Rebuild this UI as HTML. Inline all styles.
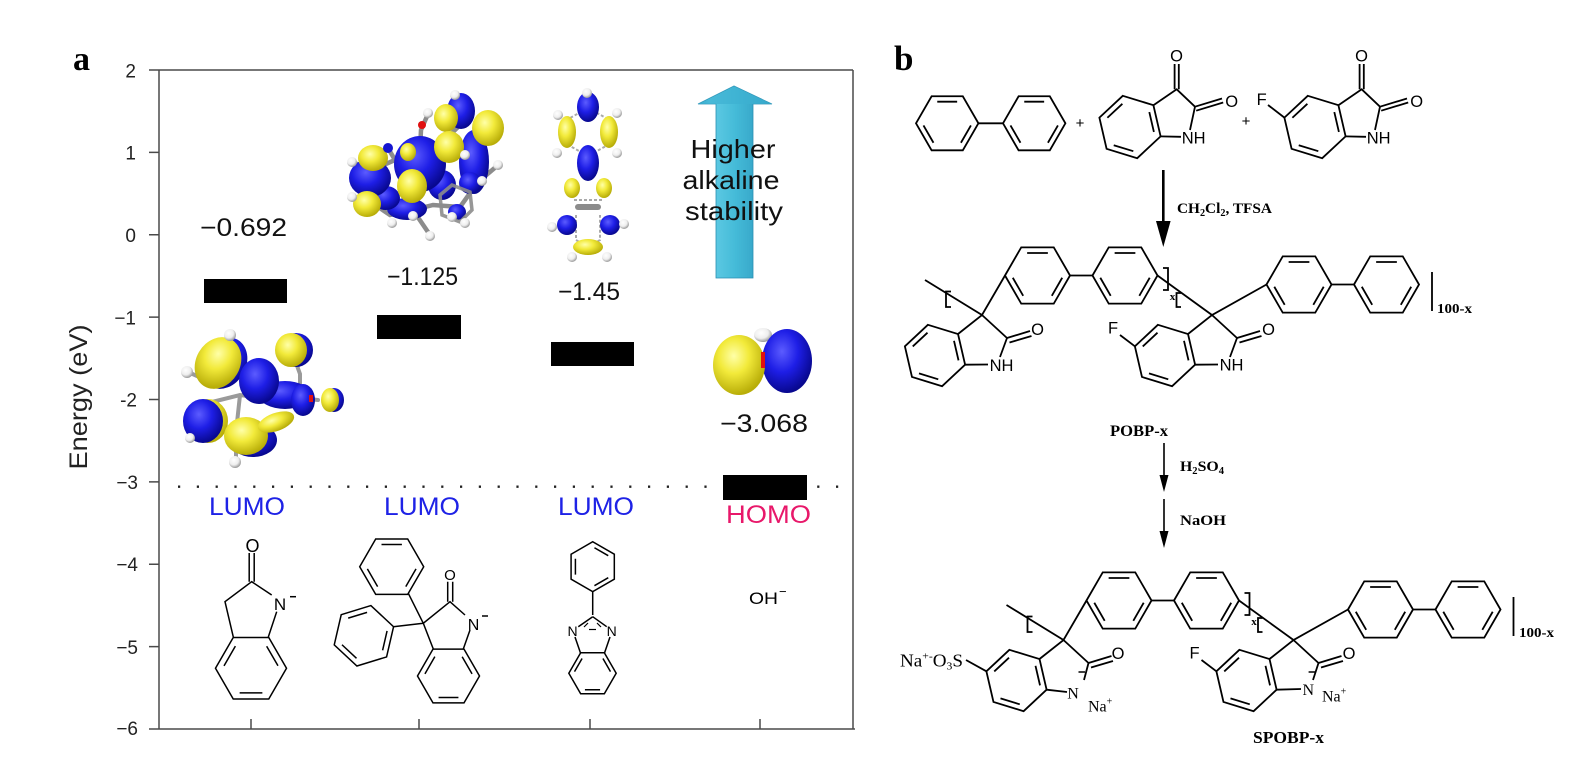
<!DOCTYPE html>
<html><head><meta charset="utf-8">
<style>
html,body{margin:0;padding:0;background:#fff;}
svg{display:block;}
</style></head><body>
<svg width="1576" height="774" viewBox="0 0 1576 774" xmlns="http://www.w3.org/2000/svg" xmlns:xlink="http://www.w3.org/1999/xlink">
<defs>
<radialGradient id="gy" cx="40%" cy="35%" r="65%"><stop offset="0" stop-color="#ffffa8"/><stop offset="0.45" stop-color="#f2ea3a"/><stop offset="1" stop-color="#b8ad08"/></radialGradient>
<radialGradient id="gb" cx="40%" cy="35%" r="65%"><stop offset="0" stop-color="#5c5cff"/><stop offset="0.5" stop-color="#1e1ee6"/><stop offset="1" stop-color="#08088f"/></radialGradient>
<radialGradient id="gw" cx="40%" cy="35%" r="65%"><stop offset="0" stop-color="#ffffff"/><stop offset="0.6" stop-color="#eeeeee"/><stop offset="1" stop-color="#9a9a9a"/></radialGradient>
<linearGradient id="cy" x1="0" y1="0" x2="1" y2="0"><stop offset="0" stop-color="#2a9ec2"/><stop offset="0.15" stop-color="#63cde6"/><stop offset="0.5" stop-color="#45bbd8"/><stop offset="0.88" stop-color="#319fc3"/><stop offset="1" stop-color="#1d7fa0"/></linearGradient>
<g id="hx"><path fill="none" vector-effect="non-scaling-stroke" d="M-32,0 L-16,-27.71 L16,-27.71 L32,0 L16,27.71 L-16,27.71 Z M-10.2,-22.17 L10.2,-22.17 M-24.32,2.21 L-14.08,19.95 M24.32,2.21 L14.08,19.95"/></g>

<g id="pobp" fill="none" stroke="#000" stroke-width="1.8">
  <path d="M925,280 L982,315 L1005,275.5 M1070.5,275.5 L1092.5,275.5 M1157.5,275.5 L1212,315 L1266.5,284.5 M1332,284.5 L1354,284.5"/>
  <use href="#hx" transform="translate(1037.5,275.5) scale(1.016)"/>
  <use href="#hx" transform="translate(1125,275.5) scale(1.016)"/>
  <use href="#hx" transform="translate(1299,284.5) scale(1.016)"/>
  <use href="#hx" transform="translate(1386.5,284.5) scale(1.016)"/>
  <use href="#hx" transform="translate(935,355.5) rotate(77) scale(0.984)"/>
  <path d="M958,334 L982,315 L1007,338 M1007,338 L1030,331 M1009.5,342.5 L1031.5,336"/>
  <use href="#hx" transform="translate(1165,355.5) rotate(77) scale(0.984)"/>
  <path d="M1188,334 L1212,315 L1237,338 M1237,338 L1260,331 M1239.5,342.5 L1261.5,336 M1134.9,346.3 L1120,335"/>
  <path d="M951,291.5 L946,291.5 L946,307 L951,307 M1163,268 L1168,268 L1168,290 L1163,290 M1181,293 L1176.5,293 L1176.5,307 L1181,307 M1432,272 L1432,311"/>
</g>
</defs>

<rect width="1576" height="774" fill="#fff"/>

<!-- ================= PANEL A ================= -->
<text x="73" y="70" font-family="Liberation Serif, serif" font-weight="bold" font-size="34" fill="#000">a</text>

<g stroke="#4a4a4a" stroke-width="1.5" fill="none">
  <path d="M149,70 L853,70 M159,70 L159,729 M149,729 L855,729 M853,70 L853,729"/>
  <path d="M149,152.4 L159,152.4 M149,234.75 L159,234.75 M149,317.1 L159,317.1 M149,399.5 L159,399.5 M149,481.9 L159,481.9 M149,564.25 L159,564.25 M149,646.6 L159,646.6"/>
  <path d="M251,719 L251,729 M419,719 L419,729 M590,719 L590,729 M760,719 L760,729"/>
</g>
<g font-family="Liberation Sans, sans-serif" font-size="19" fill="#222" text-anchor="end">
  <text x="136" y="77.7">2</text>
  <text x="136" y="159.5">1</text>
  <text x="136" y="242">0</text>
  <text x="136" y="324.5">−1</text>
  <text x="137" y="406.5">-2</text>
  <text x="138" y="489">−3</text>
  <text x="138" y="571">−4</text>
  <text x="138" y="654">−5</text>
  <text x="138" y="735">−6</text>
</g>
<text transform="translate(87,397) rotate(-90)" text-anchor="middle" font-family="Liberation Sans, sans-serif" font-size="25" fill="#222" textLength="145" lengthAdjust="spacingAndGlyphs">Energy (eV)</text>

<line x1="178" y1="486.7" x2="848" y2="486.7" stroke="#222" stroke-width="2.4" stroke-dasharray="2.2 16.6"/>

<rect x="204" y="279" width="83" height="24" fill="#000"/>
<rect x="377" y="315" width="84" height="24" fill="#000"/>
<rect x="551" y="342" width="83" height="24" fill="#000"/>
<rect x="723" y="475" width="84" height="25" fill="#000"/>

<g font-family="Liberation Sans, sans-serif" font-size="25" fill="#111">
  <text x="200" y="236" textLength="87" lengthAdjust="spacingAndGlyphs">−0.692</text>
  <text x="387" y="285" textLength="71" lengthAdjust="spacingAndGlyphs">−1.125</text>
  <text x="558" y="300" textLength="62" lengthAdjust="spacingAndGlyphs">−1.45</text>
  <text x="720" y="432" textLength="88" lengthAdjust="spacingAndGlyphs">−3.068</text>
</g>

<g font-family="Liberation Sans, sans-serif" font-size="25">
  <text x="209" y="515" fill="#1e22e6" textLength="76" lengthAdjust="spacingAndGlyphs">LUMO</text>
  <text x="384" y="515" fill="#1e22e6" textLength="76" lengthAdjust="spacingAndGlyphs">LUMO</text>
  <text x="558" y="515" fill="#1e22e6" textLength="76" lengthAdjust="spacingAndGlyphs">LUMO</text>
  <text x="726" y="523" fill="#e8186a" textLength="85" lengthAdjust="spacingAndGlyphs">HOMO</text>
</g>

<polygon points="716,278 753,278 753,104 772,104 734,86 698,104 716,104" fill="url(#cy)" stroke="#2a8fb2" stroke-width="0.8"/>
<polygon points="698,104 734,86 772,104" fill="#3db0d2" opacity="0.7"/>
<g font-family="Liberation Sans, sans-serif" font-size="26" fill="#111" text-anchor="middle">
  <text x="733" y="158" textLength="85" lengthAdjust="spacingAndGlyphs">Higher</text>
  <text x="731" y="189" textLength="97" lengthAdjust="spacingAndGlyphs">alkaline</text>
  <text x="734" y="220" textLength="98" lengthAdjust="spacingAndGlyphs">stability</text>
</g>

<!-- orbital 1 -->
<g>
  <g stroke="#9a9a9a" stroke-width="4" stroke-linecap="round" fill="none">
    <path d="M230,336 L222,352 M188,372 L206,380 M212,402 L240,395 L262,398 L300,398 L318,400 M240,395 L236,432 M236,440 L236,460 M292,352 L300,374 L300,398"/>
  </g>
  <ellipse cx="224" cy="363" rx="22" ry="27" transform="rotate(30 224 363)" fill="url(#gb)"/>
  <ellipse cx="218" cy="363" rx="22" ry="27" transform="rotate(30 218 363)" fill="url(#gy)"/>
  <ellipse cx="208" cy="421" rx="20" ry="22" fill="url(#gy)"/>
  <ellipse cx="203" cy="421" rx="20" ry="22" fill="url(#gb)"/>
  <ellipse cx="296" cy="350" rx="17" ry="17" fill="url(#gb)"/>
  <ellipse cx="291" cy="350" rx="16" ry="17" fill="url(#gy)"/>
  <ellipse cx="285" cy="395" rx="26" ry="14" fill="url(#gb)"/>
  <ellipse cx="303" cy="400" rx="12" ry="16" fill="url(#gb)"/>
  <ellipse cx="259" cy="381" rx="20" ry="23" fill="url(#gb)"/>
  <ellipse cx="253" cy="440" rx="24" ry="17" fill="url(#gb)"/>
  <ellipse cx="246" cy="436" rx="22" ry="19" fill="url(#gy)"/>
  <ellipse cx="276" cy="422" rx="19" ry="9" transform="rotate(-20 276 422)" fill="url(#gy)"/>
  <ellipse cx="334" cy="400" rx="10" ry="12" fill="url(#gb)"/>
  <ellipse cx="330" cy="400" rx="9" ry="12" fill="url(#gy)"/>
  <rect x="309" y="395" width="4" height="7" fill="#e01010"/>
  <circle cx="230" cy="335" r="6" fill="url(#gw)"/>
  <circle cx="187" cy="372" r="6" fill="url(#gw)"/>
  <circle cx="190" cy="438" r="5" fill="url(#gw)"/>
  <circle cx="235" cy="462" r="6" fill="url(#gw)"/>
</g>

<!-- orbital 2 -->
<g>
  <g stroke="#8c8c8c" stroke-width="4.5" stroke-linecap="round" fill="none">
    <path d="M352,162 L372,170 L395,160 L420,150 L445,140 L460,125 M372,170 L368,200 L390,215 L413,210 L433,205 L460,207 L478,182 L470,160 L445,150 M420,150 L421,130 L428,114 M395,160 L388,148 M413,210 L430,235 M460,207 L465,223 M478,182 L497,166 M445,140 L455,96"/>
  </g>
  <ellipse cx="474" cy="162" rx="15" ry="32" fill="url(#gb)"/>
  <ellipse cx="488" cy="128" rx="16" ry="18" fill="url(#gy)"/>
  <ellipse cx="461" cy="111" rx="14" ry="18" fill="url(#gb)"/>
  <ellipse cx="446" cy="118" rx="12" ry="14" fill="url(#gy)"/>
  <ellipse cx="442" cy="185" rx="14" ry="15" fill="url(#gb)"/>
  <ellipse cx="470" cy="183" rx="11" ry="11" fill="url(#gb)"/>
  <ellipse cx="407" cy="209" rx="20" ry="11" fill="url(#gb)"/>
  <ellipse cx="386" cy="198" rx="14" ry="12" fill="url(#gb)"/>
  <ellipse cx="420" cy="164" rx="26" ry="28" fill="url(#gb)"/>
  <ellipse cx="412" cy="186" rx="15" ry="17" fill="url(#gy)"/>
  <ellipse cx="449" cy="147" rx="15" ry="16" fill="url(#gy)"/>
  <ellipse cx="408" cy="152" rx="8" ry="9" fill="url(#gy)"/>
  <ellipse cx="370" cy="178" rx="21" ry="19" fill="url(#gb)"/>
  <ellipse cx="373" cy="158" rx="15" ry="13" fill="url(#gy)"/>
  <ellipse cx="367" cy="204" rx="14" ry="13" fill="url(#gy)"/>
  <ellipse cx="457" cy="212" rx="9" ry="8" fill="url(#gb)"/>
  <g stroke="#8c8c8c" stroke-width="3.5" fill="none" opacity="0.9">
    <path d="M440,195 L452,185 L470,192 L472,210 L460,222 L442,215 Z"/>
  </g>
  <circle cx="422" cy="125" r="4" fill="#e01010"/>
  <circle cx="388" cy="148" r="5" fill="#1515d0"/>
  <g fill="url(#gw)">
    <circle cx="455" cy="95" r="5"/><circle cx="428" cy="113" r="5"/><circle cx="352" cy="162" r="5"/>
    <circle cx="352" cy="197" r="5"/><circle cx="392" cy="223" r="5"/><circle cx="413" cy="216" r="5"/>
    <circle cx="430" cy="236" r="5"/><circle cx="465" cy="223" r="5"/><circle cx="482" cy="181" r="5"/>
    <circle cx="498" cy="165" r="5"/><circle cx="465" cy="155" r="5"/><circle cx="452" cy="217" r="5"/>
  </g>
</g>

<!-- orbital 3 -->
<g>
  <g stroke="#aaaaaa" stroke-width="2" fill="none" stroke-dasharray="3 2">
    <path d="M570,118 L570,146 L588,156 L606,146 L606,118 L588,108 Z M574,200 L602,200 M576,215 L576,240 L588,247 L600,240 L600,215"/>
  </g>
  <rect x="575" y="204" width="26" height="6" rx="3" fill="#8c8c8c"/>
  <ellipse cx="588" cy="107" rx="11" ry="15" fill="url(#gb)"/>
  <ellipse cx="567" cy="132" rx="9" ry="16" fill="url(#gy)"/>
  <ellipse cx="609" cy="132" rx="9" ry="16" fill="url(#gy)"/>
  <ellipse cx="588" cy="163" rx="11" ry="18" fill="url(#gb)"/>
  <ellipse cx="572" cy="188" rx="8" ry="10" fill="url(#gy)"/>
  <ellipse cx="604" cy="188" rx="8" ry="10" fill="url(#gy)"/>
  <ellipse cx="567" cy="225" rx="10" ry="10" fill="url(#gb)"/>
  <ellipse cx="610" cy="225" rx="10" ry="10" fill="url(#gb)"/>
  <ellipse cx="588" cy="247" rx="15" ry="8" fill="url(#gy)"/>
  <g fill="url(#gw)">
    <circle cx="587" cy="93" r="5"/><circle cx="558" cy="115" r="5"/><circle cx="617" cy="113" r="5"/>
    <circle cx="557" cy="153" r="5"/><circle cx="617" cy="153" r="5"/><circle cx="552" cy="227" r="5"/>
    <circle cx="624" cy="224" r="5"/><circle cx="572" cy="257" r="5"/><circle cx="607" cy="257" r="5"/>
  </g>
</g>

<!-- orbital 4 -->
<g>
  <ellipse cx="763" cy="335" rx="9" ry="7" fill="url(#gw)"/>
  <ellipse cx="787" cy="361" rx="25" ry="32" fill="url(#gb)"/>
  <ellipse cx="739" cy="365" rx="26" ry="30" fill="url(#gy)"/>
  <rect x="761" y="352" width="4" height="16" fill="#e01010"/>
</g>

<!-- structures panel a -->
<g fill="none" stroke="#000" stroke-width="1.5">
  <use href="#hx" transform="translate(251,668.3) rotate(60) scale(1.11)"/>
  <path d="M233.3,637 L225,601.7 L251.7,581.7 L271.7,595 M276.7,611.7 L268.3,637 M249.2,581.7 L249.2,553 M254.2,581.7 L254.2,553"/>
  <path d="M290,596.7 L296,596.7"/>
  <use href="#hx" transform="translate(448.5,676) rotate(60) scale(0.969)"/>
  <path d="M433.3,649 L423.3,623.3 L450,601.7 L465,615 M470,630 L463.3,649 M447.7,601.7 L447.7,581.7 M452.7,601.7 L452.7,581.7 M423.3,623.3 L408.3,593.3 M423.3,623.3 L393.3,626.7"/>
  <use href="#hx" transform="translate(391.7,566.7) scale(1)"/>
  <use href="#hx" transform="translate(363.9,635.8) rotate(-17) scale(0.969)"/>
  <path d="M482,616 L488,616"/>
  <use href="#hx" transform="translate(592.7,566.7) rotate(30) scale(0.78)"/>
  <use href="#hx" transform="translate(592.5,673.3) rotate(60) scale(0.74)"/>
  <path d="M592.7,591.7 L592.7,615 M592.7,616.7 L578.3,626.7 M592.7,616.7 L606.7,626.7 M575,637 L580.5,653 M610,637 L604.5,653"/>
  <path d="M589,629.5 L596,629.5" stroke-width="1.2"/>
  <path d="M588,623 L584,627 M597,623 L601,627" stroke-width="1.2"/>
</g>
<g font-family="Liberation Sans, sans-serif" fill="#000">
  <text x="252.5" y="552" font-size="18" text-anchor="middle">O</text>
  <text x="280" y="610" font-size="17" text-anchor="middle">N</text>
  <text x="450" y="580" font-size="15" text-anchor="middle">O</text>
  <text x="473.5" y="630" font-size="16" text-anchor="middle">N</text>
  <text x="572.5" y="636" font-size="14" text-anchor="middle">N</text>
  <text x="611.7" y="636" font-size="14" text-anchor="middle">N</text>
  <text x="749" y="604" font-size="17" textLength="29" lengthAdjust="spacingAndGlyphs">OH</text>
  <text x="779" y="596" font-size="13">−</text>
</g>

<!-- ================= PANEL B ================= -->
<text x="894" y="70" font-family="Liberation Serif, serif" font-weight="bold" font-size="35" fill="#000">b</text>

<g fill="none" stroke="#000" stroke-width="1.8">
  <use href="#hx" transform="translate(947.2,123.3) scale(0.975)"/>
  <use href="#hx" transform="translate(1034.2,123.3) scale(0.975)"/>
  <path d="M978.4,123.3 L1003,123.3"/>
  <use href="#hx" transform="translate(1130,127) rotate(77)"/>
  <path d="M1153.4,105.2 L1176.7,89.3 L1195,106.7 L1190,130 M1160.6,136.4 L1181,136.8 M1174.6,89.3 L1174.6,64 M1178.8,89.3 L1178.8,64 M1195,106.7 L1222,98.5 M1196.2,110.7 L1223.2,102.5"/>
  <use href="#hx" transform="translate(1315,127) rotate(77)"/>
  <path d="M1338.4,105.2 L1361.7,89.3 L1380,106.7 L1375,130 M1345.6,136.4 L1366,136.8 M1359.6,89.3 L1359.6,64 M1363.8,89.3 L1363.8,64 M1380,106.7 L1407,98.5 M1381.2,110.7 L1408.2,102.5 M1284.4,117.6 L1268,105"/>
</g>
<g font-family="Liberation Sans, sans-serif" font-size="16.5" fill="#000">
  <text x="1176.5" y="61.7" text-anchor="middle">O</text>
  <text x="1231.7" y="107" text-anchor="middle">O</text>
  <text x="1181.7" y="143.3">NH</text>
  <text x="1361.5" y="61.7" text-anchor="middle">O</text>
  <text x="1416.7" y="107" text-anchor="middle">O</text>
  <text x="1366.7" y="143.3">NH</text>
  <text x="1261.7" y="105" text-anchor="middle">F</text>
  <text x="1080" y="128" font-size="15" text-anchor="middle">+</text>
  <text x="1246" y="126" font-size="15" text-anchor="middle">+</text>
</g>

<path d="M1163.3,170 L1163.3,228" stroke="#000" stroke-width="2.6"/>
<polygon points="1156,221 1170.6,221 1163.3,247" fill="#000"/>
<text x="1177" y="213" font-family="Liberation Serif, serif" font-weight="bold" font-size="15" fill="#000" textLength="95" lengthAdjust="spacingAndGlyphs">CH<tspan font-size="10" dy="3">2</tspan><tspan dy="-3">Cl</tspan><tspan font-size="10" dy="3">2</tspan><tspan dy="-3">, TFSA</tspan></text>

<use href="#pobp"/>
<g fill="none" stroke="#000" stroke-width="1.8">
  <path d="M965.1,364.7 L988,364.5 M1007,338 L1000,357 M1195.1,364.7 L1218,364.5 M1237,338 L1230,357"/>
</g>
<g font-family="Liberation Sans, sans-serif" font-size="16.5" fill="#000">
  <text x="1037.5" y="335" text-anchor="middle">O</text>
  <text x="1001.5" y="371" text-anchor="middle">NH</text>
  <text x="1113" y="333.5" text-anchor="middle">F</text>
  <text x="1268.5" y="335" text-anchor="middle">O</text>
  <text x="1231.5" y="370.5" text-anchor="middle">NH</text>
</g>
<g font-family="Liberation Serif, serif" font-weight="bold" fill="#000">
  <text x="1172.5" y="300" font-size="11" text-anchor="middle">x</text>
  <text x="1437" y="313" font-size="14" textLength="35" lengthAdjust="spacingAndGlyphs">100-x</text>
  <text x="1139" y="436" font-size="16" text-anchor="middle" textLength="58" lengthAdjust="spacingAndGlyphs">POBP-x</text>
</g>

<path d="M1164,443 L1164,480 M1164,499 L1164,536" stroke="#000" stroke-width="1.6"/>
<polygon points="1159.5,475 1168.5,475 1164,492" fill="#000"/>
<polygon points="1159.5,531 1168.5,531 1164,548" fill="#000"/>
<g font-family="Liberation Serif, serif" font-weight="bold" font-size="15" fill="#000">
  <text x="1180" y="471" textLength="44" lengthAdjust="spacingAndGlyphs">H<tspan font-size="10" dy="3">2</tspan><tspan dy="-3">SO</tspan><tspan font-size="10" dy="3">4</tspan></text>
  <text x="1180" y="525" textLength="46" lengthAdjust="spacingAndGlyphs">NaOH</text>
</g>

<use href="#pobp" transform="translate(81.5,325)"/>
<g fill="none" stroke="#000" stroke-width="1.8">
  <path d="M1046.6,689.7 L1067,692 M1088.5,663 L1084,680 M1276.6,689.7 L1301,689 M1318.5,663 L1313,680 M986.4,671.3 L966,660"/>
  <path d="M1078.5,672 L1085,672 M1308.6,672 L1315,672" stroke-width="1.4"/>
</g>
<g font-family="Liberation Sans, sans-serif" font-size="16.5" fill="#000">
  <text x="1118" y="659" text-anchor="middle">O</text>
  <text x="1194.5" y="658.5" text-anchor="middle">F</text>
  <text x="1349" y="659" text-anchor="middle">O</text>
</g>
<g font-family="Liberation Serif, serif" fill="#000">
  <text x="900" y="666.5" font-size="18" textLength="63" lengthAdjust="spacingAndGlyphs">Na<tspan font-size="11" dy="-7">+-</tspan><tspan dy="7">O</tspan><tspan font-size="11" dy="3">3</tspan><tspan dy="-3">S</tspan></text>
  <text x="1073" y="698.5" font-size="16" text-anchor="middle">N</text>
  <text x="1088" y="711.7" font-size="16">Na<tspan font-size="10" dy="-7">+</tspan></text>
  <text x="1308.3" y="695" font-size="16" text-anchor="middle">N</text>
  <text x="1322" y="701.7" font-size="16">Na<tspan font-size="10" dy="-7">+</tspan></text>
</g>
<g font-family="Liberation Serif, serif" font-weight="bold" fill="#000">
  <text x="1254" y="625" font-size="11" text-anchor="middle">x</text>
  <text x="1519" y="637" font-size="14" textLength="35" lengthAdjust="spacingAndGlyphs">100-x</text>
  <text x="1288.5" y="743" font-size="17" text-anchor="middle" textLength="71" lengthAdjust="spacingAndGlyphs">SPOBP-x</text>
</g>
</svg>
</body></html>
